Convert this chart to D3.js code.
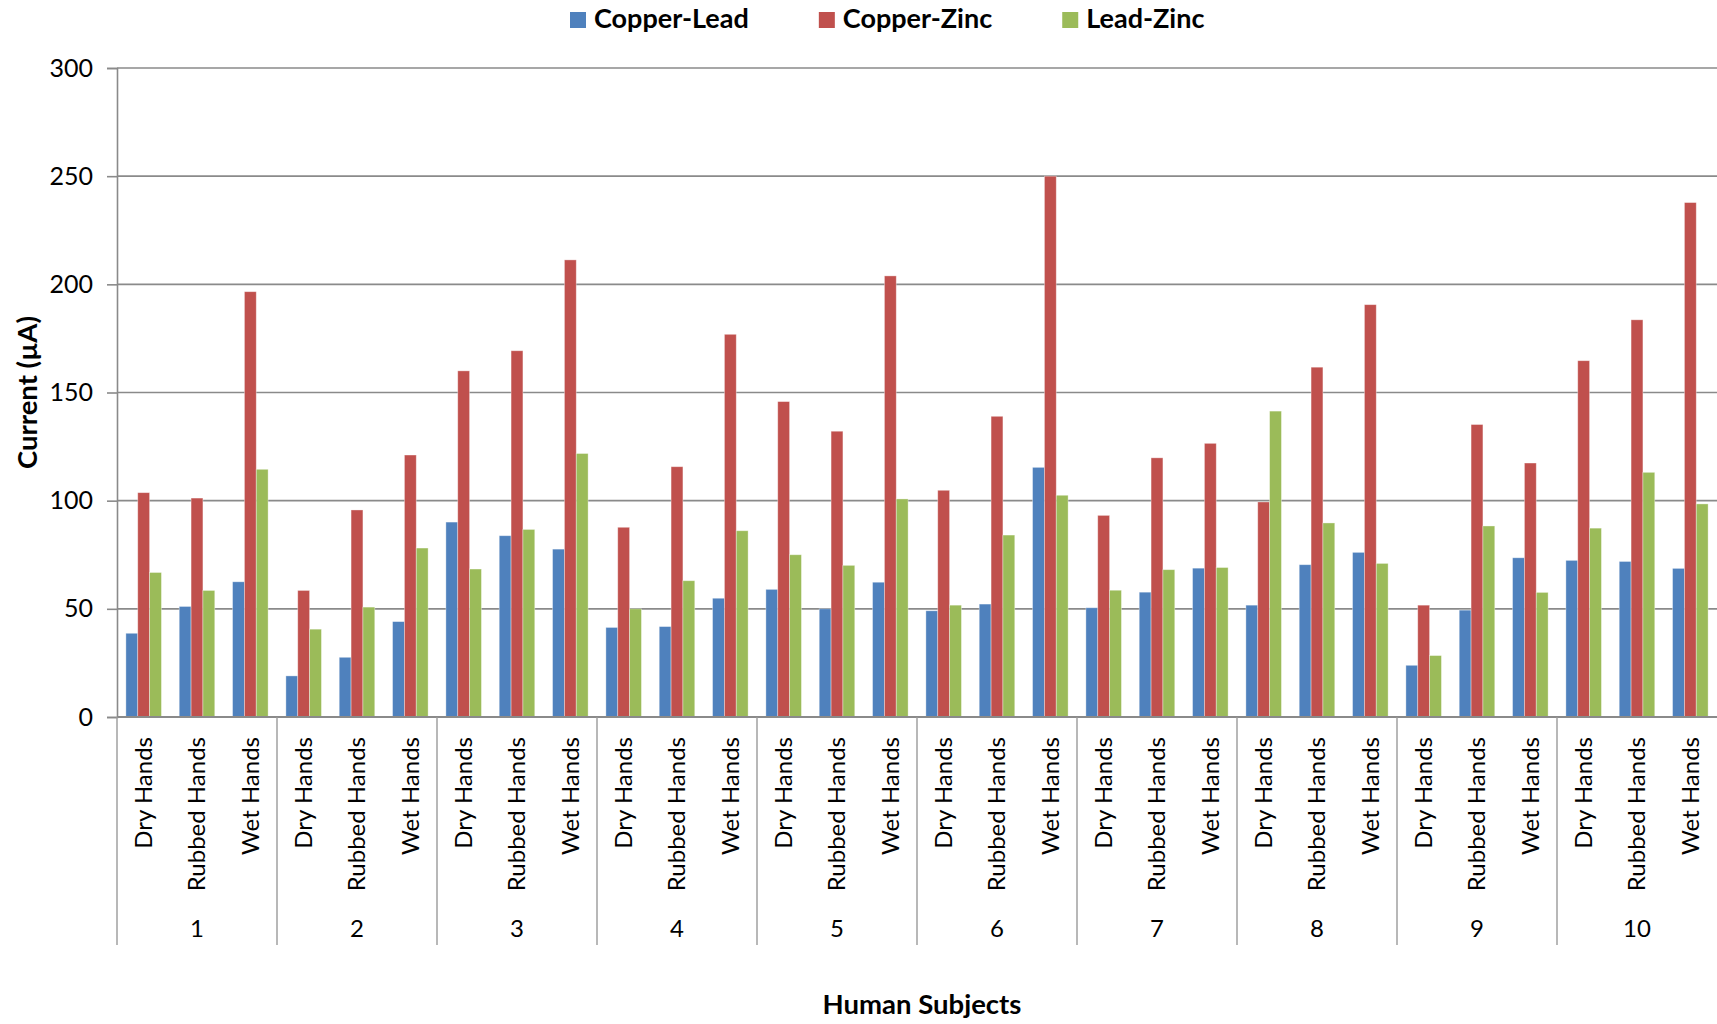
<!DOCTYPE html>
<html>
<head>
<meta charset="utf-8">
<script src="https://cdn.jsdelivr.net/npm/d3@7/dist/d3.min.js"></script>
<style>
  html, body { margin: 0; padding: 0; background: #fff; }
  svg { display: block; }
  text { font-family: Lato, "Open Sans", sans-serif; fill: #000; }
</style>
</head>
<body>
<svg id="chart" width="1717" height="1024"></svg>
<script>
// Subjects and the hand condition measured for each of them
const subjects = ["1", "2", "3", "4", "5", "6", "7", "8", "9", "10"];
const conditions = ["Dry Hands", "Rubbed Hands", "Wet Hands"];
const seriesNames = ["Copper-Lead", "Copper-Zinc", "Lead-Zinc"];
const seriesColors = ["#4F81BD", "#C0504D", "#9BBB59"];
const yTicks = [0, 50, 100, 150, 200, 250, 300];

// Current in µA, ordered subject by subject: Dry, Rubbed, Wet
const copperLead = [38.7, 51.1, 62.5, 19.0, 27.6, 44.1, 90.1, 83.8, 77.6, 41.4, 41.8, 54.9,
  59.0, 50.0, 62.3, 49.1, 52.2, 115.4, 50.5, 57.7, 68.8, 51.7, 70.4, 76.1,
  23.9, 49.4, 73.6, 72.4, 71.9, 68.7];
const copperZinc = [103.7, 101.2, 196.6, 58.5, 95.7, 121.1, 160.0, 169.3, 211.3, 87.7, 115.7, 176.9,
  145.8, 132.1, 203.9, 104.8, 139.0, 250.0, 93.2, 119.8, 126.5, 99.4, 161.7, 190.6,
  51.7, 135.2, 117.4, 164.7, 183.6, 237.8];
const leadZinc = [66.8, 58.5, 114.5, 40.6, 50.8, 78.1, 68.4, 86.7, 121.8, 50.0, 63.0, 86.1,
  75.0, 70.1, 100.8, 51.7, 84.1, 102.5, 58.6, 68.1, 69.1, 141.4, 89.7, 71.0,
  28.4, 88.3, 57.6, 87.3, 113.1, 98.5];

const seriesValues = [copperLead, copperZinc, leadZinc];

// One row per (subject, condition) category
const rows = [];
subjects.forEach((s, si) => {
  conditions.forEach((c, ci) => {
    const i = si * conditions.length + ci;
    rows.push({
      key: s + "|" + c, subject: s, condition: c,
      values: seriesNames.map((n, k) => ({ name: n, value: seriesValues[k][i] }))
    });
  });
});

const svg = d3.select("#chart");
const plot = { left: 117, right: 1717, top: 68, bottom: 717 };
const gridColor = "#8a8a8a";
const boldSize = 27.5;

const x0 = d3.scaleBand().domain(rows.map(r => r.key)).range([plot.left, plot.right]).padding(0);
// Excel-style 150% gap: bars take 3 of 4.5 slots in a category
const x1 = d3.scaleBand().domain(seriesNames).range([0, x0.bandwidth()]).paddingInner(0).paddingOuter(0.75);
const xs = d3.scaleBand().domain(subjects).range([plot.left, plot.right]).padding(0);
const y = d3.scaleLinear().domain([0, 300]).range([plot.bottom, plot.top]);
const color = d3.scaleOrdinal().domain(seriesNames).range(seriesColors);

// Horizontal gridlines
svg.append("g").selectAll("line").data(yTicks.filter(t => t > 0)).join("line")
  .attr("x1", plot.left).attr("x2", plot.right)
  .attr("y1", d => y(d)).attr("y2", d => y(d))
  .attr("stroke", gridColor).attr("stroke-width", 1.6);

// Y axis
const yAxis = svg.append("g").attr("transform", `translate(${plot.left},0)`)
  .call(d3.axisLeft(y).tickValues(yTicks).tickSize(10).tickPadding(14));
yAxis.select(".domain").attr("stroke", gridColor).attr("stroke-width", 1.6);
yAxis.selectAll(".tick line").attr("stroke", gridColor).attr("stroke-width", 1.6);
yAxis.selectAll(".tick text").attr("font-family", "Lato, sans-serif").attr("font-size", 25).attr("fill", "#000");

// Bars
const groups = svg.append("g").selectAll("g").data(rows).join("g")
  .attr("transform", d => `translate(${x0(d.key)},0)`);
groups.selectAll("rect").data(d => d.values).join("rect")
  .attr("x", d => x1(d.name))
  .attr("width", x1.bandwidth())
  .attr("y", d => y(d.value))
  .attr("height", d => y(0) - y(d.value))
  .attr("fill", d => color(d.name))
  .attr("stroke", "rgba(255,255,255,0.45)")
  .attr("stroke-width", 0.8);

// Category axis: baseline, subject separators, two label levels
svg.append("line")
  .attr("x1", plot.left).attr("x2", plot.right)
  .attr("y1", plot.bottom).attr("y2", plot.bottom)
  .attr("stroke", gridColor).attr("stroke-width", 1.8);

svg.append("g").selectAll("line").data(subjects).join("line")
  .attr("x1", d => xs(d)).attr("x2", d => xs(d))
  .attr("y1", plot.bottom).attr("y2", 945)
  .attr("stroke", "#9a9a9a").attr("stroke-width", 1.4);

svg.append("g").selectAll("text").data(rows).join("text")
  .attr("transform", d => `translate(${x0(d.key) + x0.bandwidth() / 2},737) rotate(-90)`)
  .attr("text-anchor", "end")
  .attr("dy", "0.35em")
  .attr("font-size", 24)
  .text(d => d.condition);

svg.append("g").selectAll("text").data(subjects).join("text")
  .attr("x", d => xs(d) + xs.bandwidth() / 2)
  .attr("y", 929)
  .attr("dy", "0.35em")
  .attr("text-anchor", "middle")
  .attr("font-size", 24)
  .text(d => d);

// Axis titles
svg.append("text")
  .attr("x", (plot.left + plot.right) / 2 + 5).attr("y", 1004)
  .attr("dy", "0.35em").attr("text-anchor", "middle")
  .attr("font-weight", "bold").attr("font-size", boldSize)
  .text("Human Subjects");

svg.append("text")
  .attr("transform", `translate(27,${(plot.top + plot.bottom) / 2}) rotate(-90)`)
  .attr("dy", "0.35em").attr("text-anchor", "middle")
  .attr("font-weight", "bold").attr("font-size", boldSize)
  .text("Current (µA)");

// Legend
const legend = svg.append("g");
let lx = 570;
seriesNames.forEach(name => {
  const item = legend.append("g").attr("transform", `translate(${lx},0)`);
  item.append("rect").attr("x", 0).attr("y", 12).attr("width", 16).attr("height", 16)
    .attr("fill", color(name));
  const t = item.append("text").attr("x", 24).attr("y", 28)
    .attr("font-weight", "bold").attr("font-size", 27).text(name);
  lx += 24 + t.node().getComputedTextLength() + 70;
});
</script>
</body>
</html>
